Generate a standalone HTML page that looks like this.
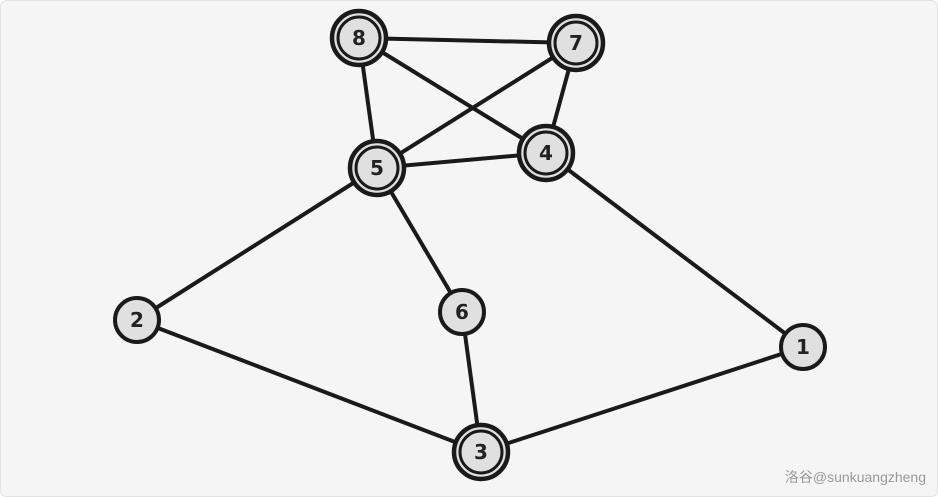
<!DOCTYPE html>
<html><head><style>
body{margin:0;background:#fff;}
svg{display:block}
</style></head><body>
<svg width="938" height="497" viewBox="0 0 938 497" xmlns="http://www.w3.org/2000/svg">
<rect x="0.5" y="0.5" width="937" height="496" rx="6" fill="#f5f5f5" stroke="#e2e2e2"/>
<g stroke="#1a1a1a" stroke-width="4" stroke-linecap="round">
<line x1="359" y1="38" x2="576" y2="43"/>
<line x1="359" y1="38" x2="377" y2="168"/>
<line x1="359" y1="38" x2="546" y2="153"/>
<line x1="576" y1="43" x2="377" y2="168"/>
<line x1="576" y1="43" x2="546" y2="153"/>
<line x1="377" y1="168" x2="546" y2="153"/>
<line x1="377" y1="168" x2="137" y2="320"/>
<line x1="377" y1="168" x2="462" y2="312"/>
<line x1="546" y1="153" x2="803" y2="347"/>
<line x1="137" y1="320" x2="481" y2="452"/>
<line x1="462" y1="312" x2="481" y2="452"/>
<line x1="803" y1="347" x2="481" y2="452"/>
</g>
<g fill="#e0e0e0" stroke="#1a1a1a">
<g stroke-width="4.5">
<circle cx="359" cy="38" r="27"/><circle cx="576" cy="43" r="27"/>
<circle cx="377" cy="168" r="27"/><circle cx="546" cy="153" r="27"/>
<circle cx="481" cy="452" r="27"/>
</g>
<g stroke-width="3">
<circle cx="359" cy="38" r="21"/><circle cx="576" cy="43" r="21"/>
<circle cx="377" cy="168" r="21"/><circle cx="546" cy="153" r="21"/>
<circle cx="481" cy="452" r="21"/>
</g>
<g stroke-width="4">
<circle cx="137" cy="320" r="22"/><circle cx="462" cy="312" r="22"/>
<circle cx="803" cy="347" r="22"/>
</g>
</g>
<g font-family="DejaVu Sans, sans-serif" font-size="20" font-weight="bold" fill="#222" text-anchor="middle">
<text x="359" y="45">8</text><text x="576" y="50">7</text>
<text x="377" y="175">5</text><text x="546" y="160">4</text>
<text x="137" y="327">2</text><text x="462" y="319">6</text>
<text x="803" y="354">1</text><text x="481" y="459">3</text>
</g>
<text x="926" y="482" text-anchor="end" font-family="Liberation Sans, 'Noto Sans CJK SC', sans-serif" font-size="14" fill="#999">洛谷@sunkuangzheng</text>
</svg>
</body></html>
